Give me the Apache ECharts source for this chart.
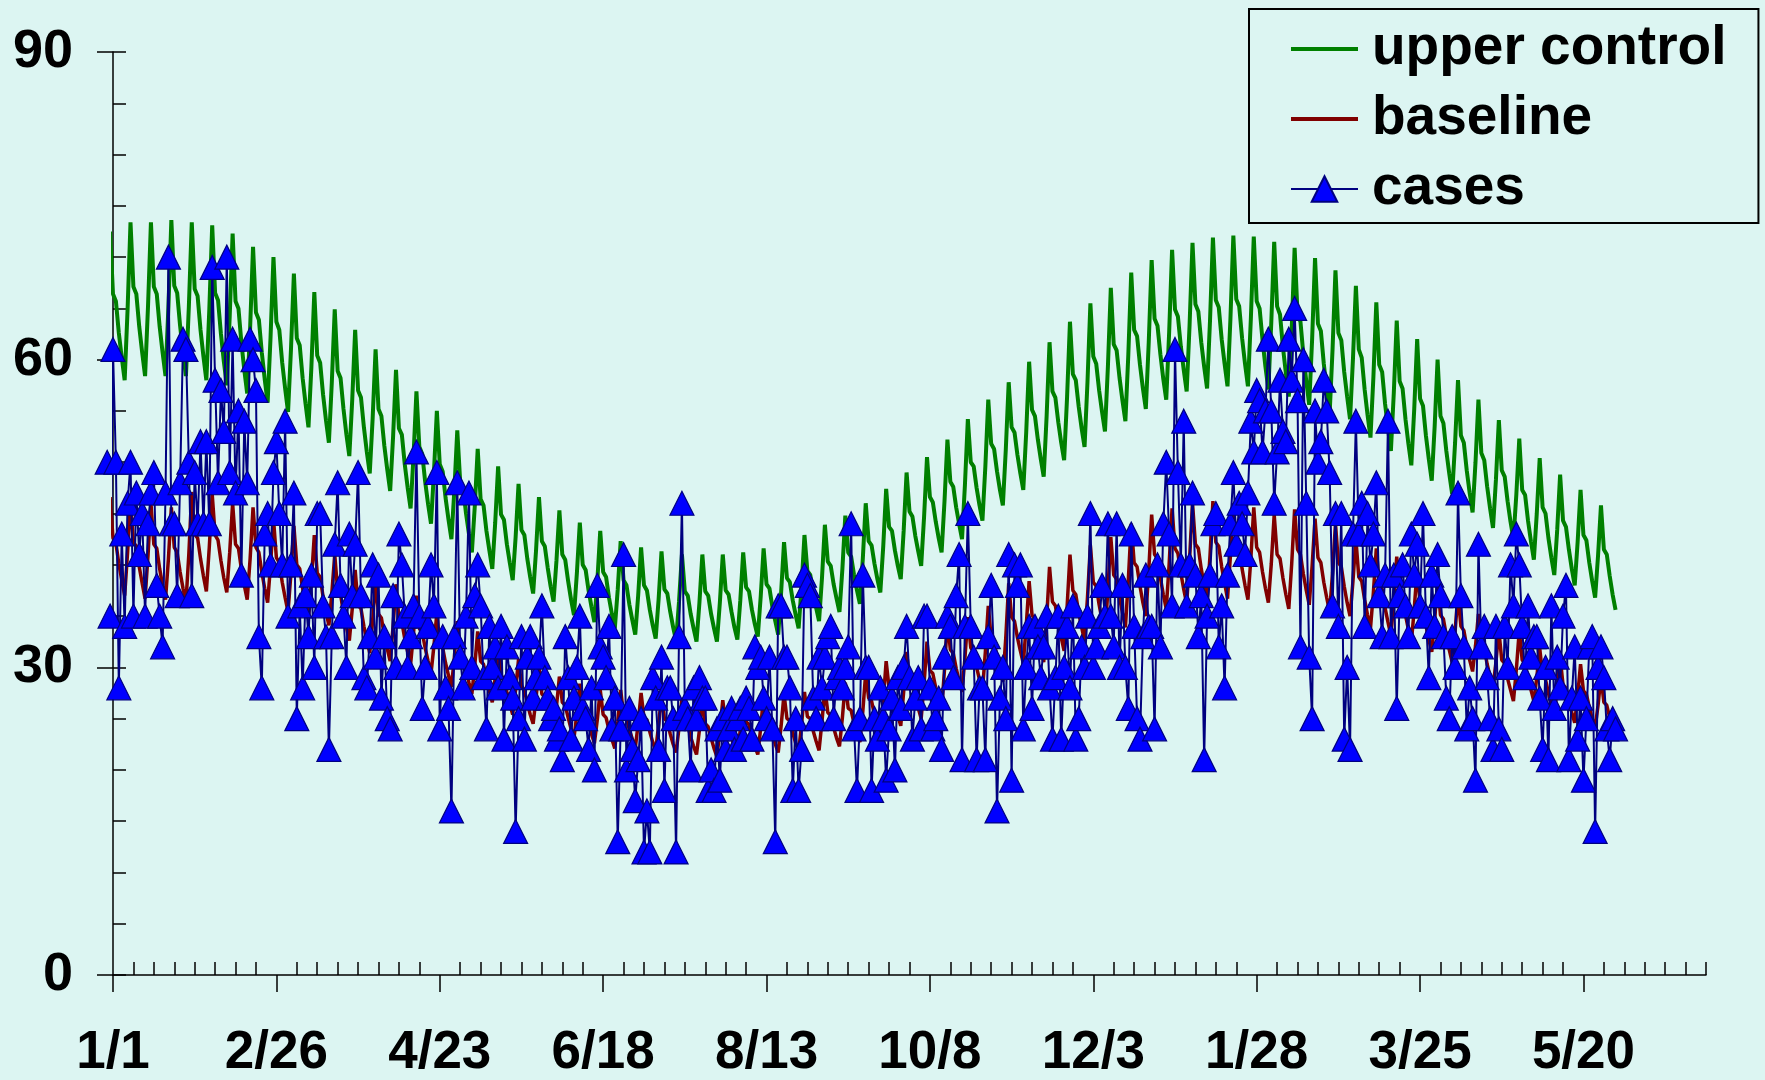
<!DOCTYPE html>
<html>
<head>
<meta charset="utf-8">
<script src="https://cdn.jsdelivr.net/npm/echarts@6/dist/echarts.min.js"></script>
<style>
  html, body { margin: 0; padding: 0; background: #dcf5f2; }
  #chart { width: 1765px; height: 1080px; }
</style>
</head>
<body>
<div id="chart"></div>
<script>
// Daily surveillance series; first value is two days before 1/1.
const firstDay = -2;

// Date labels, one every 8 weeks (56 days) starting at 1/1
const tickLabels = ['1/1', '2/26', '4/23', '6/18', '8/13', '10/8', '12/3', '1/28', '3/25', '5/20'];

// Upper control limit, one value per day (weekly rows start on the peak day)
const upperControl = [
  63.9,
  72.5, 66.4, 65.7, 62.6, 60.2, 58.0, 64.9,
  73.4, 67.1, 66.4, 63.2, 60.7, 58.4, 65.2,
  73.4, 67.1, 66.4, 63.2, 60.7, 58.4, 65.2,
  73.6, 67.2, 66.5, 63.3, 60.7, 58.4, 65.2,
  73.4, 66.9, 66.2, 62.9, 60.3, 58.0, 64.8,
  73.1, 66.5, 65.8, 62.5, 59.8, 57.5, 64.2,
  72.3, 65.7, 65.0, 61.7, 59.0, 56.7, 63.1,
  71.0, 64.6, 63.9, 60.7, 58.1, 55.8, 62.2,
  70.0, 63.7, 62.9, 59.7, 57.2, 54.9, 61.0,
  68.4, 62.1, 61.4, 58.2, 55.7, 53.4, 59.3,
  66.6, 60.4, 59.7, 56.6, 54.1, 51.9, 57.8,
  64.9, 58.9, 58.2, 55.2, 52.7, 50.6, 56.1,
  62.9, 57.0, 56.3, 53.4, 51.0, 48.9, 54.3,
  61.0, 55.2, 54.5, 51.6, 49.3, 47.2, 52.5,
  59.0, 53.3, 52.7, 49.8, 47.5, 45.5, 50.6,
  56.9, 51.5, 50.8, 48.1, 45.9, 44.0, 49.0,
  55.0, 49.8, 49.1, 46.5, 44.4, 42.5, 47.3,
  53.1, 48.1, 47.5, 45.0, 43.0, 41.2, 45.7,
  51.3, 46.4, 45.8, 43.3, 41.4, 39.6, 44.1,
  49.6, 44.9, 44.4, 42.0, 40.2, 38.5, 42.7,
  47.9, 43.4, 42.9, 40.6, 38.8, 37.2, 41.4,
  46.6, 42.3, 41.8, 39.7, 37.9, 36.4, 40.4,
  45.3, 41.0, 40.5, 38.4, 36.6, 35.1, 39.2,
  44.1, 40.0, 39.5, 37.5, 35.9, 34.4, 38.4,
  43.3, 39.3, 38.8, 36.8, 35.2, 33.8, 37.6,
  42.3, 38.5, 38.0, 36.1, 34.6, 33.2, 37.0,
  41.7, 38.0, 37.5, 35.6, 34.1, 32.8, 36.6,
  41.3, 37.6, 37.2, 35.4, 33.9, 32.6, 36.4,
  41.0, 37.4, 37.0, 35.2, 33.8, 32.5, 36.3,
  41.0, 37.4, 37.0, 35.2, 33.8, 32.5, 36.3,
  41.0, 37.5, 37.1, 35.4, 33.9, 32.7, 36.5,
  41.2, 37.8, 37.4, 35.6, 34.2, 33.0, 36.9,
  41.6, 38.1, 37.7, 35.9, 34.5, 33.2, 37.3,
  42.2, 38.7, 38.3, 36.5, 35.1, 33.8, 37.9,
  42.9, 39.4, 39.0, 37.2, 35.8, 34.5, 38.7,
  43.9, 40.3, 39.9, 38.1, 36.7, 35.4, 39.6,
  44.8, 41.2, 40.8, 39.0, 37.5, 36.2, 40.6,
  46.0, 42.3, 41.9, 40.1, 38.6, 37.3, 41.8,
  47.4, 43.7, 43.3, 41.4, 39.9, 38.6, 43.3,
  49.0, 45.2, 44.7, 42.8, 41.3, 39.9, 44.7,
  50.5, 46.6, 46.1, 44.2, 42.6, 41.2, 46.2,
  52.2, 48.1, 47.6, 45.6, 44.0, 42.5, 47.8,
  54.2, 50.0, 49.6, 47.5, 45.8, 44.3, 49.6,
  56.1, 51.8, 51.3, 49.1, 47.3, 45.8, 51.2,
  57.8, 53.4, 52.9, 50.7, 48.9, 47.3, 52.9,
  59.8, 55.1, 54.5, 52.2, 50.3, 48.6, 54.5,
  61.7, 56.9, 56.3, 53.9, 51.9, 50.2, 56.3,
  63.7, 58.6, 58.0, 55.4, 53.3, 51.5, 57.8,
  65.5, 60.3, 59.6, 57.0, 54.9, 53.0, 59.3,
  67.0, 61.5, 60.9, 58.2, 56.0, 54.0, 60.5,
  68.5, 62.9, 62.3, 59.5, 57.2, 55.2, 61.7,
  69.7, 64.0, 63.3, 60.5, 58.1, 56.1, 62.7,
  70.7, 64.9, 64.2, 61.3, 59.0, 56.9, 63.4,
  71.4, 65.4, 64.7, 61.7, 59.3, 57.2, 63.8,
  71.9, 65.8, 65.1, 62.0, 59.6, 57.4, 64.0,
  72.1, 65.9, 65.2, 62.1, 59.6, 57.4, 64.0,
  72.0, 65.7, 65.0, 61.9, 59.3, 57.1, 63.6,
  71.5, 65.2, 64.4, 61.2, 58.7, 56.4, 62.9,
  70.9, 64.5, 63.7, 60.5, 57.9, 55.6, 62.0,
  69.9, 63.5, 62.8, 59.6, 57.0, 54.7, 61.0,
  68.7, 62.6, 61.9, 58.8, 56.4, 54.2, 60.1,
  67.2, 61.0, 60.2, 57.1, 54.6, 52.4, 58.3,
  65.6, 59.5, 58.8, 55.7, 53.3, 51.1, 56.8,
  63.8, 57.9, 57.2, 54.2, 51.8, 49.7, 55.2,
  62.0, 56.2, 55.5, 52.6, 50.3, 48.2, 53.5,
  60.0, 54.5, 53.8, 51.1, 48.9, 46.9, 51.9,
  58.0, 52.6, 51.9, 49.2, 47.0, 45.1, 50.0,
  56.1, 50.9, 50.2, 47.6, 45.5, 43.6, 48.3,
  54.1, 49.2, 48.6, 46.2, 44.2, 42.5, 46.9,
  52.3, 47.3, 46.8, 44.3, 42.3, 40.5, 45.0,
  50.4, 45.6, 45.0, 42.6, 40.7, 39.0, 43.4,
  48.8, 44.3, 43.7, 41.5, 39.6, 38.0, 42.2,
  47.3, 42.9, 42.4, 40.2, 38.4, 36.8, 40.9,
  45.8, 41.5, 41.0, 38.9, 37.1, 35.6
];

// Expected (baseline) count per day
const baseline = [
  40.5,
  46.6, 42.6, 42.1, 40.1, 38.5, 37.0, 41.2,
  46.2, 42.2, 41.8, 39.8, 38.2, 36.7, 40.9,
  46.0, 42.0, 41.6, 39.6, 38.0, 36.6, 40.6,
  45.6, 41.7, 41.2, 39.3, 37.7, 36.3, 41.1,
  47.1, 43.0, 42.6, 40.6, 38.9, 37.4, 41.7,
  46.9, 42.9, 42.4, 40.4, 38.7, 37.3, 41.2,
  46.0, 42.0, 41.6, 39.6, 38.0, 36.6, 40.6,
  45.6, 41.7, 41.2, 39.3, 37.7, 36.3, 40.0,
  44.5, 40.7, 40.2, 38.3, 36.8, 35.4, 39.2,
  43.8, 40.0, 39.6, 37.7, 36.2, 34.8, 38.5,
  42.9, 39.2, 38.8, 36.9, 35.4, 34.1, 37.2,
  41.0, 37.5, 37.1, 35.3, 33.9, 32.6, 35.7,
  39.5, 36.1, 35.7, 34.0, 32.6, 31.4, 34.6,
  38.5, 35.2, 34.8, 33.1, 31.8, 30.6, 34.0,
  38.1, 34.8, 34.4, 32.8, 31.5, 30.3, 33.3,
  37.0, 33.8, 33.4, 31.9, 30.6, 29.4, 32.1,
  35.3, 32.3, 31.9, 30.4, 29.2, 28.1, 31.0,
  34.5, 31.5, 31.2, 29.7, 28.5, 27.4, 30.2,
  33.5, 30.6, 30.3, 28.8, 27.7, 26.6, 29.0,
  32.0, 29.2, 28.9, 27.6, 26.4, 25.4, 27.8,
  30.8, 28.2, 27.8, 26.5, 25.4, 24.5, 27.0,
  30.0, 27.4, 27.1, 25.8, 24.8, 23.9, 26.2,
  29.1, 26.6, 26.3, 25.1, 24.0, 23.1, 25.5,
  28.4, 26.0, 25.7, 24.5, 23.5, 22.6, 24.9,
  27.8, 25.4, 25.1, 23.9, 23.0, 22.1, 24.7,
  27.8, 25.4, 25.1, 23.9, 23.0, 22.1, 24.5,
  27.5, 25.1, 24.9, 23.7, 22.7, 21.9, 24.3,
  27.3, 25.0, 24.7, 23.5, 22.5, 21.7, 24.1,
  27.0, 24.7, 24.4, 23.2, 22.3, 21.5, 23.9,
  26.8, 24.5, 24.2, 23.1, 22.1, 21.3, 23.8,
  26.8, 24.5, 24.2, 23.1, 22.1, 21.3, 23.9,
  27.0, 24.7, 24.4, 23.2, 22.3, 21.5, 24.1,
  27.3, 25.0, 24.7, 23.5, 22.5, 21.7, 24.3,
  27.4, 25.0, 24.8, 23.6, 22.6, 21.8, 24.4,
  27.6, 25.2, 25.0, 23.8, 22.8, 21.9, 24.7,
  28.0, 25.6, 25.3, 24.1, 23.1, 22.3, 25.1,
  28.5, 26.0, 25.8, 24.5, 23.5, 22.7, 25.7,
  29.5, 27.0, 26.7, 25.4, 24.4, 23.5, 26.7,
  30.6, 28.0, 27.7, 26.3, 25.3, 24.3, 27.6,
  31.5, 28.8, 28.5, 27.1, 26.0, 25.0, 28.4,
  32.5, 29.7, 29.4, 28.0, 26.8, 25.8, 29.8,
  34.7, 31.7, 31.4, 29.9, 28.7, 27.6, 30.9,
  34.9, 31.9, 31.5, 30.0, 28.8, 27.7, 31.5,
  36.0, 32.9, 32.5, 31.0, 29.7, 28.6, 32.9,
  38.2, 34.9, 34.5, 32.9, 31.6, 30.4, 34.0,
  38.4, 35.1, 34.7, 33.1, 31.7, 30.5, 34.7,
  39.8, 36.4, 36.0, 34.3, 32.9, 31.6, 35.8,
  41.0, 37.5, 37.1, 35.3, 33.9, 32.6, 36.8,
  41.9, 38.3, 37.9, 36.1, 34.6, 33.3, 37.5,
  42.7, 39.0, 38.6, 36.8, 35.3, 33.9, 38.5,
  44.0, 40.2, 39.8, 37.9, 36.3, 35.0, 39.4,
  44.9, 41.0, 40.6, 38.7, 37.1, 35.7, 40.1,
  45.5, 41.6, 41.1, 39.2, 37.6, 36.2, 40.6,
  46.0, 42.0, 41.6, 39.6, 38.0, 36.6, 40.9,
  46.2, 42.2, 41.8, 39.8, 38.2, 36.7, 40.9,
  46.0, 42.0, 41.6, 39.6, 38.0, 36.6, 40.6,
  45.6, 41.7, 41.2, 39.3, 37.7, 36.3, 40.1,
  44.9, 41.0, 40.6, 38.7, 37.1, 35.7, 40.1,
  45.4, 41.5, 41.0, 39.1, 37.5, 36.1, 39.9,
  44.5, 40.7, 40.2, 38.3, 36.8, 35.4, 39.2,
  44.0, 40.2, 39.8, 37.9, 36.3, 35.0, 38.4,
  42.5, 38.8, 38.4, 36.6, 35.1, 33.8, 37.3,
  41.6, 38.0, 37.6, 35.8, 34.4, 33.1, 36.5,
  40.8, 37.3, 36.9, 35.1, 33.7, 32.4, 35.7,
  39.6, 36.2, 35.8, 34.1, 32.7, 31.5, 34.6,
  38.4, 35.1, 34.7, 33.1, 31.7, 30.5, 33.5,
  37.2, 34.0, 33.6, 32.0, 30.7, 29.6, 32.1,
  35.2, 32.2, 31.8, 30.3, 29.1, 28.0, 30.5,
  33.6, 30.7, 30.4, 28.9, 27.8, 26.7, 29.8,
  33.6, 30.7, 30.4, 28.9, 27.8, 26.7, 29.0,
  31.9, 29.2, 28.8, 27.5, 26.3, 25.4, 27.9,
  31.0, 28.3, 28.0, 26.7, 25.6, 24.6, 27.2,
  30.3, 27.7, 27.4, 26.1, 25.0, 24.1, 26.3,
  29.1, 26.6, 26.3, 25.1, 24.0, 23.1
];

// Observed daily cases, ten days per row
const cases = [
  50, 35, 61, 50, 28, 43, 34, 46, 50, 35,
  47, 41, 45, 35, 44, 47, 49, 38, 35, 32,
  47, 70, 44, 44, 37, 48, 62, 61, 50, 37,
  49, 44, 52, 44, 52, 44, 69, 58, 48, 57,
  53, 70, 49, 62, 47, 55, 39, 54, 48, 62,
  60, 57, 33, 28, 43, 45, 40, 49, 52, 45,
  40, 54, 35, 40, 47, 25, 36, 28, 37, 33,
  39, 30, 45, 45, 36, 33, 22, 33, 42, 48,
  38, 35, 30, 43, 37, 42, 49, 37, 29, 28,
  33, 40, 31, 39, 27, 33, 25, 24, 37, 30,
  43, 40, 35, 30, 33, 36, 51, 35, 26, 30,
  34, 40, 36, 49, 24, 33, 28, 26, 16, 33,
  48, 31, 28, 35, 47, 30, 37, 40, 36, 29,
  24, 34, 30, 32, 28, 34, 23, 32, 29, 27,
  14, 25, 33, 23, 31, 33, 27, 29, 31, 36,
  29, 27, 25, 26, 23, 24, 21, 33, 29, 23,
  27, 30, 35, 26, 25, 22, 28, 20, 38, 32,
  31, 29, 34, 24, 27, 13, 24, 41, 20, 26,
  22, 17, 21, 25, 12, 16, 12, 29, 27, 22,
  31, 18, 28, 28, 25, 12, 33, 46, 26, 25,
  20, 28, 25, 29, 27, 27, 18, 20, 18, 24,
  19, 25, 22, 24, 26, 22, 25, 26, 23, 27,
  26, 23, 32, 30, 31, 27, 25, 31, 24, 13,
  36, 36, 31, 31, 28, 18, 25, 18, 22, 39,
  38, 37, 27, 25, 31, 28, 31, 33, 34, 25,
  29, 30, 28, 30, 32, 44, 24, 18, 25, 39,
  30, 30, 18, 25, 23, 28, 25, 19, 24, 27,
  20, 29, 26, 30, 34, 29, 23, 27, 29, 24,
  35, 35, 28, 24, 25, 27, 22, 31, 35, 34,
  29, 37, 41, 21, 34, 45, 34, 31, 21, 28,
  28, 21, 33, 38, 31, 16, 27, 30, 25, 41,
  19, 40, 38, 40, 24, 30, 34, 26, 34, 32,
  29, 32, 35, 28, 23, 29, 35, 23, 30, 34,
  28, 36, 23, 25, 32, 30, 35, 45, 30, 32,
  34, 38, 35, 44, 35, 32, 44, 30, 38, 30,
  26, 43, 34, 25, 23, 33, 39, 34, 34, 24,
  40, 32, 44, 50, 43, 36, 61, 49, 40, 54,
  36, 40, 47, 39, 33, 37, 21, 35, 39, 44,
  45, 32, 36, 28, 39, 44, 49, 42, 46, 44,
  41, 47, 54, 51, 57, 56, 51, 55, 62, 55,
  46, 51, 58, 53, 52, 62, 58, 65, 56, 32,
  60, 46, 31, 25, 55, 50, 52, 58, 55, 49,
  36, 45, 34, 45, 23, 30, 22, 43, 54, 43,
  46, 34, 45, 40, 43, 48, 37, 33, 39, 54,
  33, 39, 26, 37, 40, 36, 33, 43, 39, 42,
  36, 45, 35, 29, 39, 34, 41, 37, 33, 27,
  25, 33, 30, 47, 37, 32, 24, 28, 25, 19,
  42, 32, 34, 29, 25, 22, 34, 24, 22, 34,
  30, 40, 36, 43, 40, 34, 29, 36, 31, 33,
  33, 27, 22, 30, 21, 36, 26, 31, 28, 35,
  38, 21, 27, 32, 23, 27, 19, 25, 32, 33,
  14, 30, 32, 29, 24, 21, 25, 24
];

const DAYS_PER_LABEL = 56;
const AXIS_END = 546;          // 78 weeks
const FONT = '"Liberation Sans", Arial, Helvetica, sans-serif';
const BG = '#dcf5f2';

const toPoints = arr => arr.map((v, i) => [firstDay + i, v]);

// Labelled ticks every 8 weeks, short weekly ticks in between
const majorTicks = tickLabels.map((_, i) => i * DAYS_PER_LABEL);
const minorTicks = [];
for (let d = 7; d <= AXIS_END; d += 7) {
  if (d % DAYS_PER_LABEL !== 0) minorTicks.push(d);
}

const axisColor = '#000';
const labelStyle = {
  color: '#000',
  fontFamily: FONT,
  fontWeight: 'bold',
  fontSize: 53
};

// Legend entries for the two plain lines show only the line, no marker
const lineOnlyIcon = { color: 'rgba(0,0,0,0)', borderWidth: 0, opacity: 0 };

const chart = echarts.init(document.getElementById('chart'), null, { renderer: 'canvas' });

chart.setOption({
  backgroundColor: BG,
  animation: false,
  grid: { left: 113, right: 59, top: 52, bottom: 104, containLabel: false },
  legend: {
    data: [
      { name: 'upper control', itemStyle: lineOnlyIcon, lineStyle: { width: 4, color: '#008000' } },
      { name: 'baseline', itemStyle: lineOnlyIcon, lineStyle: { width: 4, color: '#800000' } },
      { name: 'cases', lineStyle: { width: 2, color: '#000080' } }
    ],
    orient: 'vertical',
    left: 1249,
    top: 9,
    padding: [10, 32, 4, 40],
    itemWidth: 67,
    itemHeight: 32,
    itemGap: 10,
    borderColor: '#000',
    borderWidth: 2,
    backgroundColor: BG,
    selectedMode: false,
    textStyle: Object.assign({}, labelStyle, { fontSize: 55, lineHeight: 60, padding: [0, 0, 0, 9] })
  },
  xAxis: [
    {
      type: 'value',
      position: 'bottom',
      min: 0,
      max: AXIS_END,
      axisLine: { show: true, onZero: false, lineStyle: { color: axisColor, width: 1.5 } },
      axisTick: {
        show: true,
        inside: false,
        length: 17,
        customValues: majorTicks,
        lineStyle: { color: axisColor, width: 1.5 }
      },
      axisLabel: Object.assign({
        customValues: majorTicks,
        margin: 52,
        hideOverlap: false,
        formatter: v => tickLabels[Math.round(v / DAYS_PER_LABEL)] || ''
      }, labelStyle),
      splitLine: { show: false }
    },
    {
      type: 'value',
      position: 'bottom',
      min: 0,
      max: AXIS_END,
      axisLine: { show: false, onZero: false },
      axisTick: {
        show: true,
        inside: true,
        length: 13,
        customValues: minorTicks,
        lineStyle: { color: axisColor, width: 1.5 }
      },
      axisLabel: { show: false },
      splitLine: { show: false }
    }
  ],
  yAxis: [
    {
      type: 'value',
      position: 'left',
      min: 0,
      max: 90,
      interval: 30,
      axisLine: { show: true, onZero: false, lineStyle: { color: axisColor, width: 1.5 } },
      axisTick: { show: true, inside: false, length: 16, lineStyle: { color: axisColor, width: 1.5 } },
      axisLabel: Object.assign({ margin: 40 }, labelStyle, { fontSize: 54 }),
      splitLine: { show: false }
    },
    {
      type: 'value',
      position: 'left',
      min: 0,
      max: 90,
      interval: 5,
      axisLine: { show: false, onZero: false },
      axisTick: { show: true, inside: true, length: 13, lineStyle: { color: axisColor, width: 1.5 } },
      axisLabel: { show: false },
      splitLine: { show: false }
    }
  ],
  series: [
    {
      name: 'upper control',
      type: 'line',
      xAxisIndex: 0,
      yAxisIndex: 0,
      data: toPoints(upperControl),
      symbol: 'none',
      clip: false,
      lineStyle: { color: '#008000', width: 4 },
      itemStyle: { color: '#008000' },
      z: 2
    },
    {
      name: 'baseline',
      type: 'line',
      xAxisIndex: 0,
      yAxisIndex: 0,
      data: toPoints(baseline),
      symbol: 'none',
      clip: false,
      lineStyle: { color: '#800000', width: 3.5 },
      itemStyle: { color: '#800000' },
      z: 3
    },
    {
      name: 'cases',
      type: 'line',
      xAxisIndex: 0,
      yAxisIndex: 0,
      data: toPoints(cases),
      symbol: 'triangle',
      symbolSize: 24,
      showAllSymbol: true,
      clip: false,
      lineStyle: { color: '#000080', width: 2 },
      itemStyle: { color: '#0000ff', borderColor: '#000080', borderWidth: 1.2 },
      z: 4
    }
  ]
});
</script>
</body>
</html>
